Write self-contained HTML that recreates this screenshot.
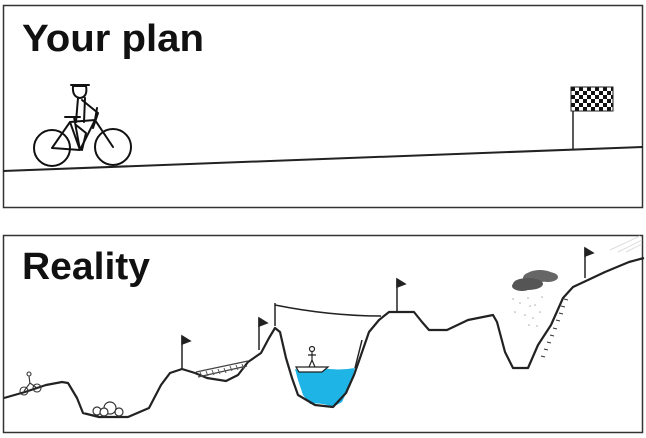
<!DOCTYPE html>
<html><head><style>
html,body{margin:0;padding:0;background:#fff;}
svg{display:block;}
text{font-family:"Liberation Sans",sans-serif;font-weight:bold;}
</style></head><body>
<svg width="646" height="438" viewBox="0 0 646 438" xmlns="http://www.w3.org/2000/svg">
<defs>
<pattern id="chk" width="8" height="8" patternUnits="userSpaceOnUse" x="571" y="87">
<rect width="8" height="8" fill="#fff"/><rect width="4" height="4" fill="#111"/><rect x="4" y="4" width="4" height="4" fill="#111"/>
</pattern>
</defs>
<rect x="3.5" y="5.5" width="639" height="202" fill="#fff" stroke="#333" stroke-width="1.5"/>
<text x="22" y="51" font-size="38" fill="#111" textLength="182" lengthAdjust="spacingAndGlyphs">Your plan</text>
<line x1="3" y1="171" x2="643" y2="147" stroke="#222" stroke-width="2"/>
<line x1="573" y1="150" x2="573" y2="88" stroke="#222" stroke-width="1.5"/>
<rect x="571" y="87" width="42" height="24" fill="url(#chk)" stroke="#222" stroke-width="1"/>
<g fill="none" stroke="#111" stroke-width="2" stroke-linecap="round" stroke-linejoin="round">
<circle cx="52" cy="148" r="18"/>
<circle cx="113" cy="147" r="18"/>
<path d="M52 148 L70 122 L95 120 L113 147 M52 148 L80 150 L95 120 M70 122 L80 150 L74 117 M65 117 L80 117 M95 120 L97 108"/>
<path d="M73 86 Q72 97 80 98 Q88 97 86 86 Z M71 85 L89 85"/>
<path d="M78 98 L76 122 M85 98 L84 122 M82 100 L98 113 L93 128 M76 125 L86 133 L82 150"/>
</g>
<rect x="3.5" y="235.5" width="639" height="197" fill="#fff" stroke="#333" stroke-width="1.5"/>
<g stroke="#ddd" stroke-width="1"><line x1="610" y1="250" x2="640" y2="236"/><line x1="618" y1="252" x2="642" y2="240"/><line x1="626" y1="252" x2="642" y2="244"/></g>
<text x="22" y="279" font-size="38" fill="#111" textLength="128" lengthAdjust="spacingAndGlyphs">Reality</text>
<path d="M295 369 Q310 372 322 368 Q338 371 355 368 L350 385 L342 402 L333 407 Q320 402 310 404 L303 395 L298 380 Z" fill="#1eb4e6"/>
<path d="M4 398 L25 392 L46 385 L62 382 L68 383 L77 398 L83 413 L99 417 L128 417 L149 408 L161 385 L170 373 L182 369 L195 373 L207 378 L226 381 L238 375 L248 362 L261 353 L269 338 L275 328 L280 332 L286 358 L292 378 L298 395 L315 405 L333 407 L346 393 L354 375 L360 358 L369 332 L379 320 L389 312 L414 312 L422 322 L429 330 L447 330 L468 320 L493 315 L497 322 L505 352 L513 368 L528 368 L538 345 L551 325 L563 298 L573 287 L588 280 L605 272 L629 262 L644 258" fill="none" stroke="#222" stroke-width="2.2" stroke-linejoin="round"/>
<path d="M196 372 L248 361 M198 377 L247 366" stroke="#444" stroke-width="1.2" fill="none"/>
<path d="M200 372 l2 5 M206 371 l2 5 M212 370 l2 5 M218 369 l2 5 M224 368 l2 5 M230 366 l2 5 M236 365 l2 5 M242 364 l2 5" stroke="#555" stroke-width="1"/>
<line x1="275" y1="303" x2="275" y2="326" stroke="#222" stroke-width="1.5"/>
<path d="M275 305 Q330 316 381 316" fill="none" stroke="#222" stroke-width="1.5"/>
<line x1="355" y1="368" x2="362" y2="340" stroke="#222" stroke-width="1.5"/>
<g stroke="#222" stroke-width="1.5" fill="#222">
<line x1="182" y1="369" x2="182" y2="336"/><path d="M182 336 L190 341 L182 344 Z"/>
<line x1="259" y1="350" x2="259" y2="318"/><path d="M259 318 L267 323 L259 326 Z"/>
<line x1="397" y1="312" x2="397" y2="279"/><path d="M397 279 L405 284 L397 287 Z"/>
<line x1="585" y1="278" x2="585" y2="248"/><path d="M585 248 L593 253 L585 256 Z"/>
</g>
<path d="M296 367 L328 367 L322 372 L299 372 Z" fill="#fff" stroke="#222" stroke-width="1.2"/>
<g stroke="#222" stroke-width="1.2" fill="none"><circle cx="312" cy="349" r="2.5"/><path d="M312 352 L312 360 L309 367 M312 360 L315 367 M308 355 L316 355"/></g>
<g fill="#fff" stroke="#333" stroke-width="1.2"><circle cx="97" cy="411" r="4"/><circle cx="110" cy="408" r="6"/><circle cx="104" cy="412" r="4"/><circle cx="119" cy="412" r="4"/></g>
<g fill="none" stroke="#333" stroke-width="1.1"><circle cx="24" cy="391" r="4"/><circle cx="37" cy="388" r="4"/><path d="M24 391 L30 383 L37 388 M29 376 L30 384"/><circle cx="29" cy="374" r="2"/></g>
<g fill="#666"><ellipse cx="540" cy="276" rx="14" ry="6"/><ellipse cx="533" cy="278" rx="10" ry="6"/><ellipse cx="548" cy="277" rx="10" ry="5"/></g>
<g fill="#555"><ellipse cx="528" cy="284" rx="15" ry="6"/><ellipse cx="522" cy="286" rx="10" ry="5"/></g>
<g fill="#aaa"><circle cx="513" cy="299" r=".8"/><circle cx="520" cy="303" r=".8"/><circle cx="528" cy="298" r=".8"/><circle cx="535" cy="305" r=".8"/><circle cx="542" cy="297" r=".8"/><circle cx="515" cy="312" r=".8"/><circle cx="525" cy="315" r=".8"/><circle cx="533" cy="318" r=".8"/><circle cx="540" cy="312" r=".8"/><circle cx="529" cy="325" r=".8"/><circle cx="537" cy="326" r=".8"/><circle cx="530" cy="306" r=".8"/></g>
<g stroke="#333" stroke-width="1"><path d="M541 356 l4 1 M544 349 l4 1 M547 342 l4 1 M550 335 l4 1 M553 328 l4 1 M556 320 l4 1 M559 313 l4 1 M561 306 l4 1 M564 299 l4 1"/></g>
</svg>
</body></html>
